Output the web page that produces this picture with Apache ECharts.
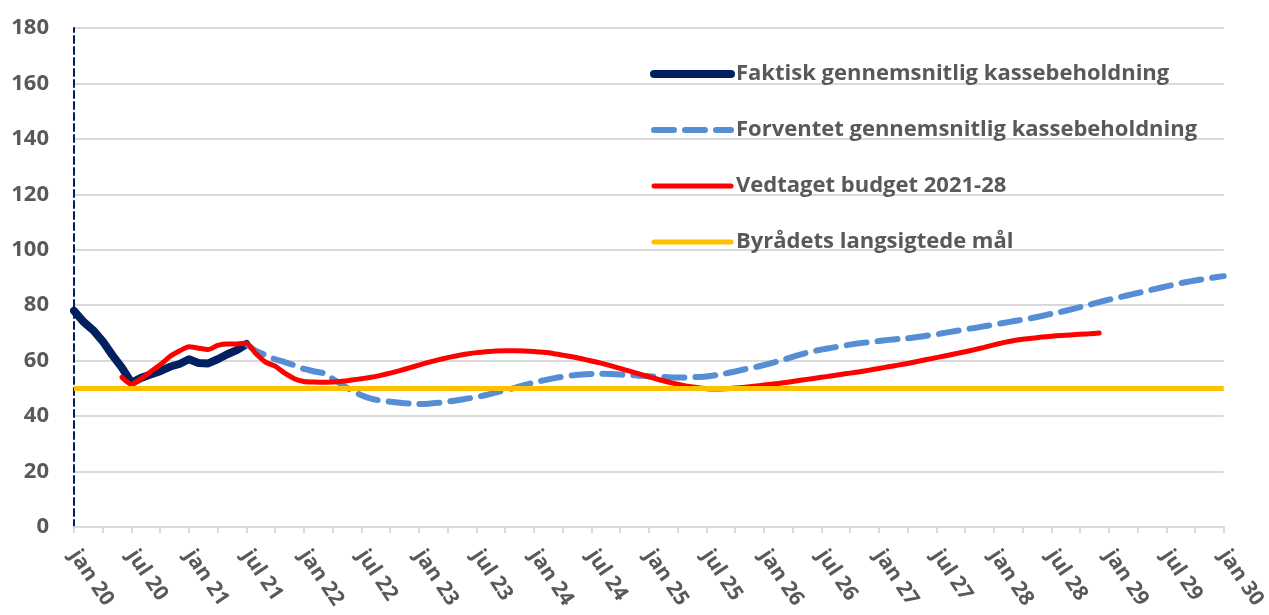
<!DOCTYPE html>
<html>
<head>
<meta charset="utf-8">
<script src="https://cdn.jsdelivr.net/npm/echarts@6/dist/echarts.min.js"></script>
<style>
html,body{margin:0;padding:0;background:#fff;}
#chart{width:1269px;height:615px;}
</style>
</head>
<body>
<div id="chart"></div>
<script>
// Month names used for category labels (shown every 6 months: jan / jul)
const monthNames = ['jan','feb','mar','apr','maj','jun','jul','aug','sep','okt','nov','dec'];
const startYear = 20, endYear = 30;

// Series names
const seriesNames = [
  'Faktisk gennemsnitlig kassebeholdning',
  'Forventet gennemsnitlig kassebeholdning',
  'Vedtaget budget 2021-28',
  'Byrådets langsigtede mål'
];

// Faktisk (actual), monthly from jan 20 (index 0) to jul 21 (index 18)
const faktisk = [78, 74, 71, 67, 62, 57.5, 52, 53.8, 55, 56.2, 57.8, 58.8, 60.5, 59.2, 59, 60.5, 62.3, 63.8, 66];
const faktiskStart = 0;

// Forventet (expected), monthly from jul 21 (index 18) to jan 30 (index 120)
const forventet = [
  66, 63.5, 62, 60.5, 59.5, 58.3, 57, 56.2, 55.5, 53.5, 51.2, 49.2,   // jul21 - jun22
  47.5, 46.3, 45.6, 45.2, 44.8, 44.5, 44.4, 44.5, 44.8, 45.2, 45.7, 46.3, // jul22 - jun23
  46.9, 47.6, 48.5, 49.3, 50.2, 51.2, 52.1, 52.9, 53.6, 54.2, 54.7, 55,   // jul23 - jun24
  55.2, 55.3, 55.2, 55, 54.8, 54.6, 54.4, 54.2, 54, 53.9, 53.9, 54.1,     // jul24 - jun25
  54.3, 54.8, 55.4, 56.1, 56.9, 57.6, 58.4, 59.3, 60.3, 61.4, 62.4, 63.3, // jul25 - jun26
  64, 64.6, 65.2, 65.8, 66.3, 66.7, 67.1, 67.5, 67.8, 68.1, 68.5, 69,     // jul26 - jun27
  69.5, 70.1, 70.7, 71.3, 71.8, 72.4, 73, 73.6, 74.2, 74.8, 75.4, 76.1,   // jul27 - jun28
  76.9, 77.6, 78.4, 79.3, 80.2, 81.1, 82, 82.8, 83.6, 84.4, 85.2, 86,     // jul28 - jun29
  86.8, 87.6, 88.3, 88.9, 89.5, 90, 90.5                                   // jul29 - jan30
];
const forventetStart = 18;

// Vedtaget budget 2021-28, monthly from jun 20 (index 5) to dec 28 (index 107)
const budget = [
  54, 51.5, 53.5, 56, 58.5, 61.5, 63.5,                                   // jun20 - dec20
  65, 64.5, 64, 65.5, 66, 66, 66.3, 62.5, 59.5, 58, 55.5, 53.5,           // 2021
  52.5, 52.3, 52.2, 52.3, 52.6, 53, 53.5, 54, 54.7, 55.5, 56.4, 57.4,     // 2022
  58.4, 59.4, 60.3, 61.1, 61.8, 62.4, 62.9, 63.2, 63.5, 63.6, 63.6, 63.5, // 2023
  63.3, 63, 62.6, 62, 61.4, 60.7, 59.9, 59.1, 58.2, 57.2, 56.2, 55.2,     // 2024
  54.2, 53.2, 52.3, 51.5, 50.8, 50.3, 49.9, 49.8, 49.9, 50.1, 50.4, 50.8, // 2025
  51.2, 51.6, 52, 52.5, 53, 53.5, 54, 54.5, 55, 55.5, 56, 56.6,           // 2026
  57.2, 57.8, 58.4, 59, 59.7, 60.4, 61.1, 61.8, 62.5, 63.2, 64, 64.8,     // 2027
  65.7, 66.5, 67.2, 67.7, 68.1, 68.5, 68.8, 69.1, 69.3, 69.5, 69.7, 70    // 2028
];
const budgetStart = 5;

// Byrådets langsigtede mål (target), constant
const maal = 50;

// Y axis
const yMin = 0, yMax = 180, yStep = 20;

// ---- build categories and aligned series ----
const categories = [];
for (let y = startYear; y <= endYear; y++) {
  for (let m = 0; m < 12; m++) {
    if (y === endYear && m > 0) break;
    categories.push(monthNames[m] + ' ' + y);
  }
}
function place(values, start) {
  const out = categories.map(() => null);
  values.forEach((v, i) => { out[start + i] = v; });
  return out;
}
const sFaktisk = place(faktisk, faktiskStart);
const sForventet = place(forventet, forventetStart);
const sBudget = place(budget, budgetStart);
const sMaal = categories.map(() => maal);

const textColor = '#595959';
const fontFam = '"Open Sans", "Noto Sans", sans-serif';

const chart = echarts.init(document.getElementById('chart'), null, {renderer: 'canvas'});
chart.setOption({
  animation: false,
  backgroundColor: '#ffffff',
  grid: {left: 74, right: 41, top: 28, bottom: 88, containLabel: false},
  legend: {
    orient: 'vertical',
    left: 650,
    top: 61,
    padding: 0,
    itemWidth: 77,
    itemHeight: 14,
    itemGap: 30,
    itemStyle: {opacity: 0},
    lineStyle: {width: 'inherit', cap: 'round'},
    textStyle: {color: textColor, fontSize: 22, fontWeight: 'bold', fontFamily: fontFam, lineHeight: 26},
    data: seriesNames
  },
  xAxis: {
    type: 'category',
    data: categories,
    boundaryGap: false,
    axisLine: {show: true, lineStyle: {color: '#d9d9d9', width: 2}},
    axisTick: {show: true, interval: 2, length: 6, lineStyle: {color: '#d9d9d9', width: 2}},
    axisLabel: {
      interval: 5, rotate: -56, margin: 25,
      color: textColor, fontSize: 21, fontWeight: 'bold', fontFamily: fontFam
    },
    splitLine: {show: false}
  },
  yAxis: {
    type: 'value',
    min: yMin, max: yMax, interval: yStep,
    axisLine: {show: true, lineStyle: {color: '#002060', width: 2, type: [7, 4]}},
    axisTick: {show: false},
    axisLabel: {color: textColor, fontSize: 22, fontWeight: 'bold', fontFamily: fontFam, margin: 25},
    splitLine: {show: true, lineStyle: {color: '#d9d9d9', width: 2}}
  },
  series: [
    {
      name: seriesNames[0], type: 'line', data: sFaktisk, symbol: 'none',
      lineStyle: {color: '#002060', width: 8, cap: 'round', join: 'round'},
      itemStyle: {color: '#002060'}, z: 2
    },
    {
      name: seriesNames[1], type: 'line', data: sForventet, symbol: 'none', smooth: 0.2,
      lineStyle: {color: '#558ED5', width: 6, type: [20, 11], cap: 'round', join: 'round'},
      itemStyle: {color: '#558ED5'}, z: 3
    },
    {
      name: seriesNames[2], type: 'line', data: sBudget, symbol: 'none', smooth: 0.2,
      lineStyle: {color: '#FF0000', width: 5, cap: 'round', join: 'round'},
      itemStyle: {color: '#FF0000'}, z: 4
    },
    {
      name: seriesNames[3], type: 'line', data: sMaal, symbol: 'none',
      lineStyle: {color: '#FFC000', width: 5},
      itemStyle: {color: '#FFC000'}, z: 5
    }
  ]
});
</script>
</body>
</html>
